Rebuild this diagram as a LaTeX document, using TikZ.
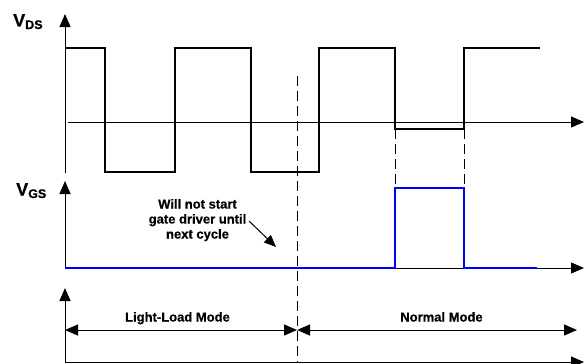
\documentclass[tikz,border=0pt]{standalone}
\usepackage{fontspec}
\setmainfont{Liberation Sans}[BoldFeatures={FakeBold=0.6}]
\usetikzlibrary{arrows.meta}
\begin{document}
\begin{tikzpicture}[x=1pt,y=-1pt,
  axis/.style={line width=1pt,-{Triangle[length=13pt,width=11pt]}},
  wave/.style={line width=2pt,line join=miter},
  gate/.style={line width=2pt,line join=miter,draw=blue},
  guide/.style={line width=1pt,dash pattern=on 10pt off 5pt},
  span/.style={line width=1pt,{Triangle[length=13pt,width=11pt]}-{Triangle[length=13pt,width=11pt]}},
  lbl/.style={font=\fontsize{13}{15}\selectfont\bfseries,inner sep=0pt,anchor=base},
  sig/.style={inner sep=0pt,anchor=base west,font=\bfseries},
]
\useasboundingbox (0,0) rectangle (584,364);
% V_DS panel
\coordinate (dsO) at (65,173);
\coordinate (dsTop) at (65,14);
\coordinate (dsX0) at (68,122);
\coordinate (dsX1) at (584,122);
\draw[axis] (dsO) -- (dsTop);
\draw[axis] (dsX0) -- (dsX1);
\draw[wave] (65,48) -- (105,48) -- (105,172) -- (175,172) -- (175,48) -- (251,48)
  -- (251,172) -- (319,172) -- (319,48) -- (395,48) -- (395,129) -- (464,129)
  -- (464,48) -- (540,48);
\node[sig] (vds) at (13,26.5) {{\fontsize{18}{18}\selectfont V}\raisebox{-2.5pt}{\fontsize{12.5}{12.5}\selectfont DS}};
% V_GS panel
\coordinate (gsO) at (65,268);
\coordinate (gsTop) at (65,181);
\coordinate (gsX1) at (584,268);
\draw[axis] (gsO) -- (gsTop);
\draw[axis] (gsO) -- (gsX1);
\draw[gate] (65,268) -- (395,268) -- (395,188) -- (464,188) -- (464,268) -- (537,268);
\node[sig] (vgs) at (16,195.5) {{\fontsize{18}{18}\selectfont V}\raisebox{-2.5pt}{\fontsize{12.5}{12.5}\selectfont GS}};
% guides
\coordinate (g1a) at (297,76);
\coordinate (g1b) at (297,362);
\draw[guide] (g1a) -- (g1b);
\coordinate (g2a) at (395,129);
\coordinate (g2b) at (395,188);
\draw[guide] (g2a) -- (g2b);
\coordinate (g3a) at (464,129);
\coordinate (g3b) at (464,188);
\draw[guide] (g3a) -- (g3b);
% note
\node[lbl] (note1) at (197.5,208.5) {Will not start};
\node[lbl] (note2) at (197.5,223.5) {gate driver until};
\node[lbl] (note3) at (197.5,238.5) {next cycle};
\coordinate (na) at (249,221);
\coordinate (nb) at (276,247);
\draw[line width=1pt,-{Triangle[length=12pt,width=10pt]}] (na) -- (nb);
% mode panel
\coordinate (mO) at (65,362);
\coordinate (mTop) at (65,288);
\coordinate (mX1) at (584,362);
\draw[axis] (mO) -- (mTop);
\draw[axis] (mO) -- (mX1);
\coordinate (l0) at (65,330);
\coordinate (l1) at (297,330);
\coordinate (r1) at (577,330);
\draw[span] (l0) -- (l1);
\draw[span] (l1) -- (r1);
\node[lbl] (llm) at (177.5,321.5) {Light-Load Mode};
\node[lbl] (nm) at (441.5,321.5) {Normal Mode};
\end{tikzpicture}
\end{document}
